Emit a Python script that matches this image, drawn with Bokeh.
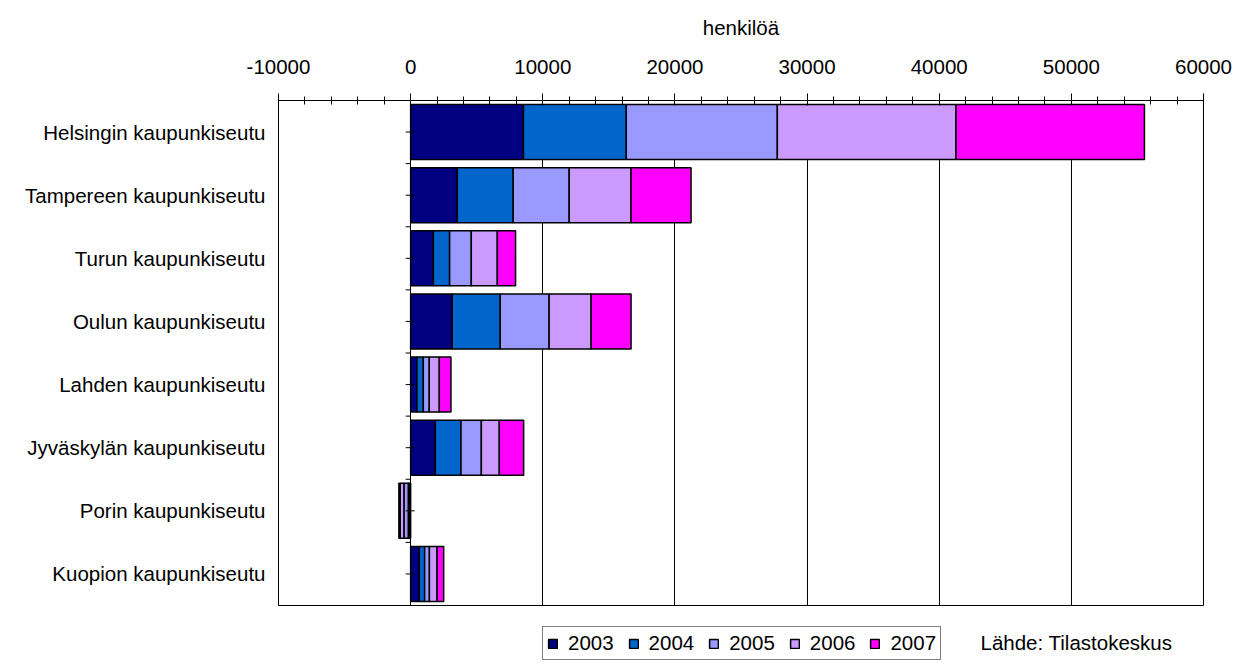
import math
from bokeh.plotting import figure
from bokeh.layouts import column
from bokeh.models import (FactorRange, Range1d, ColumnDataSource, SingleIntervalTicker,
                          NumeralTickFormatter, Label, Legend, LegendItem)
from bokeh.embed import file_html
from bokeh.resources import INLINE

# ---- data ----
cities = ["Helsingin kaupunkiseutu", "Tampereen kaupunkiseutu", "Turun kaupunkiseutu",
          "Oulun kaupunkiseutu", "Lahden kaupunkiseutu", "Jyväskylän kaupunkiseutu",
          "Porin kaupunkiseutu", "Kuopion kaupunkiseutu"]
years = ["2003", "2004", "2005", "2006", "2007"]
v2003 = [8540, 3530, 1720, 3150, 480, 1870, -120, 660]
v2004 = [7780, 4230, 1230, 3630, 480, 1940, -60, 400]
v2005 = [11430, 4240, 1640, 3700, 450, 1540, -330, 360]
v2006 = [13520, 4680, 1970, 3180, 760, 1360, -280, 580]
v2007 = [14260, 4540, 1380, 3020, 880, 1840, -100, 500]
colors = ["#000080", "#0066CC", "#9999FF", "#CC99FF", "#FF00FF"]
x_title = "henkilöä"
source_note = "Lähde: Tilastokeskus"

FONT = "Liberation Sans"
FS = "20.5px"
BL, BR = 278, 29   # side borders shared by both figures

source = ColumnDataSource(dict(city=cities, **{"2003": v2003, "2004": v2004, "2005": v2005,
                                               "2006": v2006, "2007": v2007}))

p = figure(width=1232, height=620,
           y_range=FactorRange(factors=list(reversed(cities))),
           x_range=Range1d(-10000, 60000),
           x_axis_location="above",
           output_backend="svg", toolbar_location=None,
           min_border_left=BL, min_border_right=BR,
           min_border_top=100, min_border_bottom=15)

p.background_fill_color = "white"
p.border_fill_color = "white"
p.outline_line_color = "black"
p.outline_line_width = 1

bars = p.hbar_stack(years, y="city", height=0.87, source=source,
                    fill_color=colors, line_color="black", line_width=1.5)

# vertical category axis line at zero with its small ticks
bounds = list(range(0, len(cities) + 1))
centers = [i + 0.5 for i in range(len(cities))]
p.ray(x=[0] * len(bounds), y=bounds, length=5, angle=math.pi,
      length_units="screen", line_color="black", line_width=1)
p.ray(x=[0] * len(centers), y=centers, length=5, angle=math.pi,
      length_units="screen", line_color="black", line_width=1)
p.ray(x=[0] * len(centers), y=centers, length=4, angle=0,
      length_units="screen", line_color="black", line_width=1)

# x axis (top)
xa = p.xaxis[0]
xa.ticker = SingleIntervalTicker(interval=10000, num_minor_ticks=5)
xa.formatter = NumeralTickFormatter(format="0")
xa.axis_label = x_title
xa.axis_label_text_font = FONT
xa.axis_label_text_font_size = FS
xa.axis_label_text_font_style = "normal"
xa.axis_label_text_color = "black"
xa.axis_label_standoff = 18
xa.major_label_text_font = FONT
xa.major_label_text_font_size = FS
xa.major_label_text_color = "black"
xa.major_label_standoff = 20
xa.axis_line_color = "black"
xa.major_tick_line_color = "black"
xa.minor_tick_line_color = "black"
xa.major_tick_out = 7
xa.major_tick_in = 5
xa.minor_tick_out = 4
xa.minor_tick_in = 4

# y axis (left, labels only)
ya = p.yaxis[0]
ya.major_label_text_font = FONT
ya.major_label_text_font_size = FS
ya.major_label_text_color = "black"
ya.major_tick_line_color = None
ya.minor_tick_line_color = None
ya.major_label_standoff = 7
ya.axis_line_color = "black"

p.xgrid.grid_line_color = "black"
p.xgrid.grid_line_width = 1
p.ygrid.grid_line_color = None

# ---- bottom strip: legend and source note (frame aligned with the chart's frame) ----
p2 = figure(width=1232, height=44, x_range=Range1d(0, 1), y_range=Range1d(0, 1),
            x_axis_type=None, y_axis_type=None,
            output_backend="svg", toolbar_location=None,
            min_border_left=BL, min_border_right=BR, min_border_top=0, min_border_bottom=0)
p2.outline_line_color = None
p2.background_fill_color = "white"
p2.border_fill_color = "white"

items = []
for yr, c in zip(years, colors):
    # hidden swatch renderer (placed outside the visible range), only feeds the legend
    r = p2.rect(x=[-5], y=[-5], width=0.1, height=0.1, fill_color=c,
                line_color="black", line_width=1.5)
    items.append(LegendItem(label=yr, renderers=[r]))

lg = Legend(items=items, location=(542 - BL, 4), orientation="horizontal",
            label_text_font=FONT, label_text_font_size=FS, label_text_color="black",
            glyph_width=11, glyph_height=11, label_standoff=10, spacing=14,
            padding=4, margin=0, border_line_color="black", border_line_width=1,
            background_fill_alpha=1)
p2.add_layout(lg)

p2.add_layout(Label(x=980 - BL, y=22, x_units="screen", y_units="screen", text=source_note,
                    text_font=FONT, text_font_size=FS, text_color="black",
                    text_baseline="alphabetic"))

layout = column(p, p2, spacing=0)
html = file_html(layout, INLINE)
html = html.replace("<body>", '<body style="margin:0">', 1)
open("out.html", "w").write(html)
